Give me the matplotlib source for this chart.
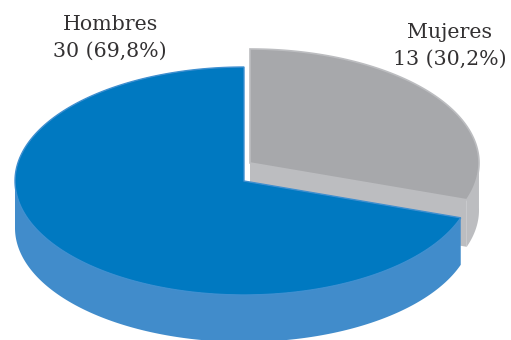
import numpy as np
import matplotlib.pyplot as plt

plt.rcParams["font.family"] = ["DejaVu Serif"]

LABELS = ["Hombres", "Mujeres"]
VALUES = [30, 13]
SHARES = ["69,8", "30,2"]

BLUE_TOP = "#0079c1"
BLUE_SIDE = "#418ccb"
BLUE_EDGE = "#3f8fd0"
GREY_TOP = "#a7a8ab"
GREY_SIDE = "#bcbdc0"

RX, RY = 229, 114
DEPTH = 47


def arc(cx, cy, a0, a1, n=200):
    t = np.radians(np.linspace(a0, a1, n))
    return cx + RX * np.cos(t), cy - RY * np.sin(t)


fig, ax = plt.subplots(figsize=(5.11, 3.40), dpi=100)
fig.subplots_adjust(0, 0, 1, 1)
ax.set_xlim(0, 511)
ax.set_ylim(340, 0)
ax.axis("off")

# slices run counterclockwise from the top of the disc
split = 90 + 360 * VALUES[0] / sum(VALUES)

# grey slice, pulled out to the upper right
gx, gy = 250, 163
x, y = arc(gx, gy, split - 360, 90)
ex, ey = arc(gx, gy, split - 360, 1)
ax.fill(np.r_[ex, ex[::-1]], np.r_[ey, ey[::-1] + DEPTH], color=GREY_SIDE, lw=0)
ax.fill([gx, x[0], x[0], gx], [gy, y[0], y[0] + DEPTH, gy + DEPTH], color=GREY_SIDE, lw=0)
ax.fill(np.r_[gx, x], np.r_[gy, y], facecolor=GREY_TOP, edgecolor=GREY_SIDE, lw=1.2)

# blue slice with its rim
bx, by = 244, 181
x, y = arc(bx, by, 90, split)
ex, ey = arc(bx, by, 180, split)
ax.fill(np.r_[ex, ex[::-1]], np.r_[ey, ey[::-1] + DEPTH], color=BLUE_SIDE, lw=0)
ax.fill(np.r_[bx, x], np.r_[by, y], facecolor=BLUE_TOP, edgecolor=BLUE_EDGE, lw=1.0)

ax.text(110, 38, f"{LABELS[0]}\n{VALUES[0]} ({SHARES[0]}%)", ha="center", va="center",
        fontsize=14.8, color="#333132", linespacing=1.5)
ax.text(450, 46, f"{LABELS[1]}\n{VALUES[1]} ({SHARES[1]}%)", ha="center", va="center",
        fontsize=14.8, color="#333132", linespacing=1.5)

fig.savefig("out.png", dpi=100)
